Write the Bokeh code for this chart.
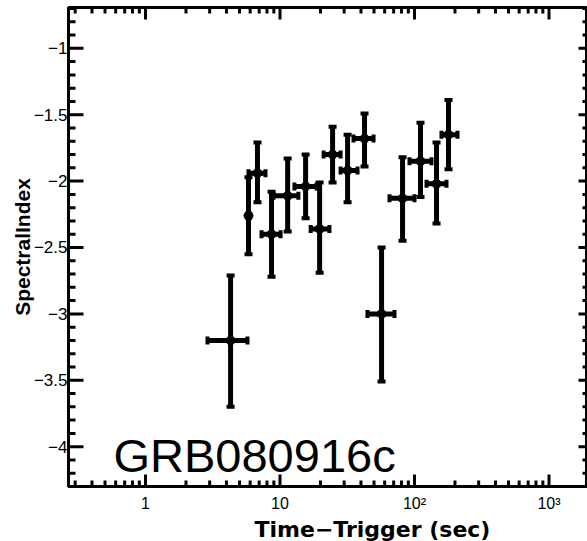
import math
from bokeh.plotting import figure
from bokeh.models import (ColumnDataSource, Whisker, TeeHead,
                          SingleIntervalTicker, LogTicker, Title, Label, Range1d)
from bokeh.embed import file_html
from bokeh.resources import INLINE

# Time bins (seconds after trigger): centre and bin edges
t_mid = [4.29, 5.83, 6.80, 8.65, 11.4, 15.5, 19.7, 24.6, 31.8, 42.5, 56.9, 81.5, 110.8, 145.8, 179.0]
t_lo = [2.89, 5.70, 5.83, 7.29, 8.95, 12.8, 16.9, 21.1, 28.2, 35.2, 44.7, 65.2, 91.8, 122.8, 158.7]
t_hi = [5.73, 6.00, 7.80, 10.1, 13.7, 18.7, 23.3, 28.2, 37.7, 49.6, 71.0, 100.0, 133.7, 173.0, 208.9]

# Spectral index with its error range
index = [-3.20, -2.26, -1.94, -2.40, -2.11, -2.04, -2.36, -1.80, -1.92, -1.68, -3.00, -2.13, -1.85, -2.02, -1.65]
index_lo = [-3.70, -2.55, -2.16, -2.72, -2.38, -2.28, -2.69, -2.01, -2.16, -1.89, -3.51, -2.45, -2.12, -2.32, -1.91]
index_hi = [-2.71, -1.97, -1.71, -2.08, -1.83, -1.80, -2.01, -1.59, -1.65, -1.49, -2.50, -1.82, -1.56, -1.71, -1.39]

x_ticks = [1, 10, 100, 1000]
x_tick_labels = ["1", "10", "10\u00b2", "10\u00b3"]
y_ticks = [-4.0, -3.5, -3.0, -2.5, -2.0, -1.5, -1.0]
y_tick_labels = ["\u22124", "\u22123.5", "\u22123", "\u22122.5", "\u22122", "\u22121.5", "\u22121"]

x_lim = (0.2676, 1933)
y_lim = (-4.30, -0.6925)

burst_name = "GRB080916c"
x_title = "Time\u2212Trigger (sec)"
y_title = "SpectralIndex"

# minor tick positions: 2..9 per decade on x, every 0.1 on y
x_minor = [k * 10.0 ** d for d in range(-1, 4) for k in range(2, 10)
           if x_lim[0] < k * 10.0 ** d < x_lim[1]]
y_minor = [round(-4.2 + 0.1 * i, 1) for i in range(36)]
y_minor = [v for v in y_minor if v not in y_ticks and y_lim[0] < v < y_lim[1]]

src = ColumnDataSource(dict(t=t_mid, tlo=t_lo, thi=t_hi,
                            idx=index, ilo=index_lo, ihi=index_hi))

p = figure(width=587, height=541, x_axis_type="log",
           x_range=Range1d(*x_lim), y_range=Range1d(*y_lim),
           output_backend="svg", toolbar_location=None,
           min_border_left=68, min_border_right=0, min_border_top=7, min_border_bottom=47)
p.grid.visible = False
p.outline_line_color = "black"
p.outline_line_width = 3
p.background_fill_color = "white"
p.border_fill_color = "white"

LABEL_FONT = "Liberation Sans"

for ax in (p.xaxis[0], p.yaxis[0]):
    ax.axis_line_width = 3
    ax.axis_line_color = "black"
    ax.major_tick_line_color = None
    ax.minor_tick_line_color = None
    ax.major_tick_in = 0
    ax.major_tick_out = 0
    ax.minor_tick_in = 0
    ax.minor_tick_out = 0
    ax.major_label_text_font = LABEL_FONT
    ax.major_label_text_color = "black"

# bottom axis labels
xax = p.xaxis[0]
xax.ticker = LogTicker(num_minor_ticks=10)
xax.major_label_text_font_size = "16px"
xax.major_label_overrides = dict(zip(x_ticks, x_tick_labels))
xax.major_label_standoff = 8

# left axis labels
yax = p.yaxis[0]
yax.ticker = SingleIntervalTicker(interval=0.5, num_minor_ticks=5)
yax.major_label_text_font_size = "17px"
yax.major_label_overrides = dict(zip(y_ticks, y_tick_labels))
yax.major_label_standoff = 1
yax.axis_label = y_title
yax.axis_label_text_font = LABEL_FONT
yax.axis_label_text_font_style = "bold"
yax.axis_label_text_font_size = "21px"
yax.axis_label_text_color = "black"
yax.axis_label_standoff = -3

# x-axis title
p.add_layout(Title(text=x_title, align="left", offset=186, standoff=0,
                   text_font="DejaVu Sans", text_font_size="22px",
                   text_font_style="bold", text_color="black"), "below")

# inward tick marks on all four sides (centred dashes, half hidden outside the frame)
tick_style = dict(marker="dash", line_color="black", line_width=3, fill_color=None)
vert = math.pi / 2
for ys in (y_lim[0], y_lim[1]):
    p.scatter(x=x_ticks, y=[ys] * len(x_ticks), size=24, angle=vert, **tick_style)
    p.scatter(x=x_minor, y=[ys] * len(x_minor), size=12, angle=vert, **tick_style)
p.scatter(x=[x_lim[0]] * len(y_ticks), y=y_ticks, size=30, **tick_style)
p.scatter(x=[x_lim[0]] * len(y_minor), y=y_minor, size=14, **tick_style)
p.scatter(x=[x_lim[1]] * len(y_ticks), y=y_ticks, size=18, **tick_style)
p.scatter(x=[x_lim[1]] * len(y_minor), y=y_minor, size=10, **tick_style)

# error bars
head = dict(size=8, line_width=4, line_color="black")
p.add_layout(Whisker(source=src, base="t", lower="ilo", upper="ihi", dimension="height",
                     line_width=5, line_color="black",
                     upper_head=TeeHead(**head), lower_head=TeeHead(**head)))
p.add_layout(Whisker(source=src, base="idx", lower="tlo", upper="thi", dimension="width",
                     line_width=5, line_color="black",
                     upper_head=TeeHead(**head), lower_head=TeeHead(**head)))
p.scatter("t", "idx", source=src, size=9, color="black")

# burst name
p.add_layout(Label(x=0.578, y=-3.87, text=burst_name, text_font=LABEL_FONT,
                   text_font_size="47px", text_color="black", text_baseline="top"))

open("out.html", "w").write(file_html(p, INLINE))
